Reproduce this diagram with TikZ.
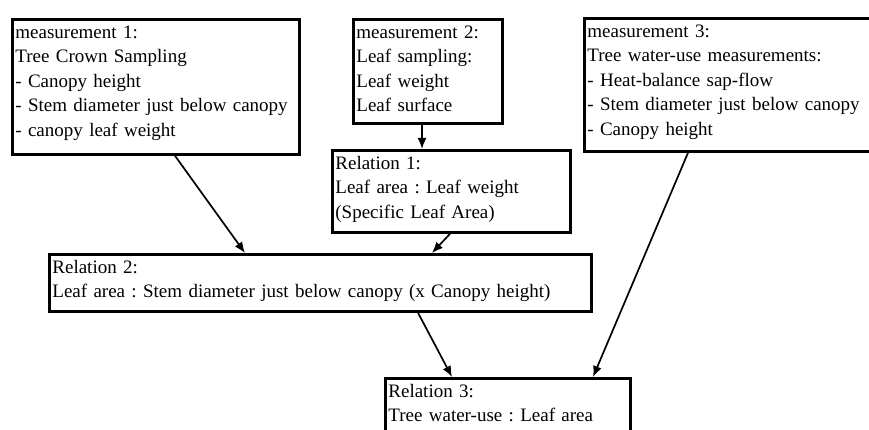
\documentclass[tikz,border=0pt]{standalone}
\usepackage{fontspec}
\setmainfont{Liberation Serif}
\usetikzlibrary{arrows.meta}
\frenchspacing

\tikzset{
  box/.style={draw, line width=2.8pt, anchor=north west, align=left,
    inner xsep=3pt, inner ysep=0pt, text height=19pt,
    font=\fontsize{19}{24.5}\selectfont},
  link/.style={line width=1.7pt, -{Latex[length=11pt,width=9pt]}}
}

\begin{document}
\begin{tikzpicture}[x=1pt,y=-1pt]
\useasboundingbox (0,0) rectangle (869,430);
\clip (0,0) rectangle (869,430);

% Measurements
\node[box, text width=281pt, text depth=116pt] (meas1) at (11,18)
  {measurement 1:\\Tree Crown Sampling\\- Canopy height\\- Stem diameter just below canopy\\- canopy leaf weight};
\node[box, text width=143pt, text depth=85pt] (meas2) at (352,18)
  {measurement 2:\\Leaf sampling:\\Leaf weight\\Leaf surface};
\node[box, text width=320pt, text depth=114pt] (meas3) at (583,17)
  {measurement 3:\\Tree water-use measurements:\\- Heat-balance sap-flow\\- Stem diameter just below canopy\\- Canopy height};

% Relations
\node[box, text width=232pt, text depth=63pt] (rel1) at (331,149)
  {Relation 1:\\Leaf area : Leaf weight\\(Specific Leaf Area)};
\node[box, text width=536pt, text depth=38pt] (rel2) at (48,253)
  {Relation 2:\\Leaf area : Stem diameter just below canopy (x Canopy height)};
\node[box, text width=239pt, text depth=51pt] (rel3) at (384,377)
  {Relation 3:\\Tree water-use : Leaf area};

% Arrows
\draw[link] ([xshift=164pt]meas1.south west) -- ([xshift=197pt]rel2.north west);
\draw[link] ([xshift=70pt]meas2.south west) -- ([xshift=91pt]rel1.north west);
\draw[link] ([xshift=119pt]rel1.south west) -- ([xshift=384pt]rel2.north west);
\draw[link] ([xshift=370pt]rel2.south west) -- ([xshift=68pt]rel3.north west);
\draw[link] ([xshift=105pt]meas3.south west) -- ([xshift=209pt]rel3.north west);

\end{tikzpicture}
\end{document}
